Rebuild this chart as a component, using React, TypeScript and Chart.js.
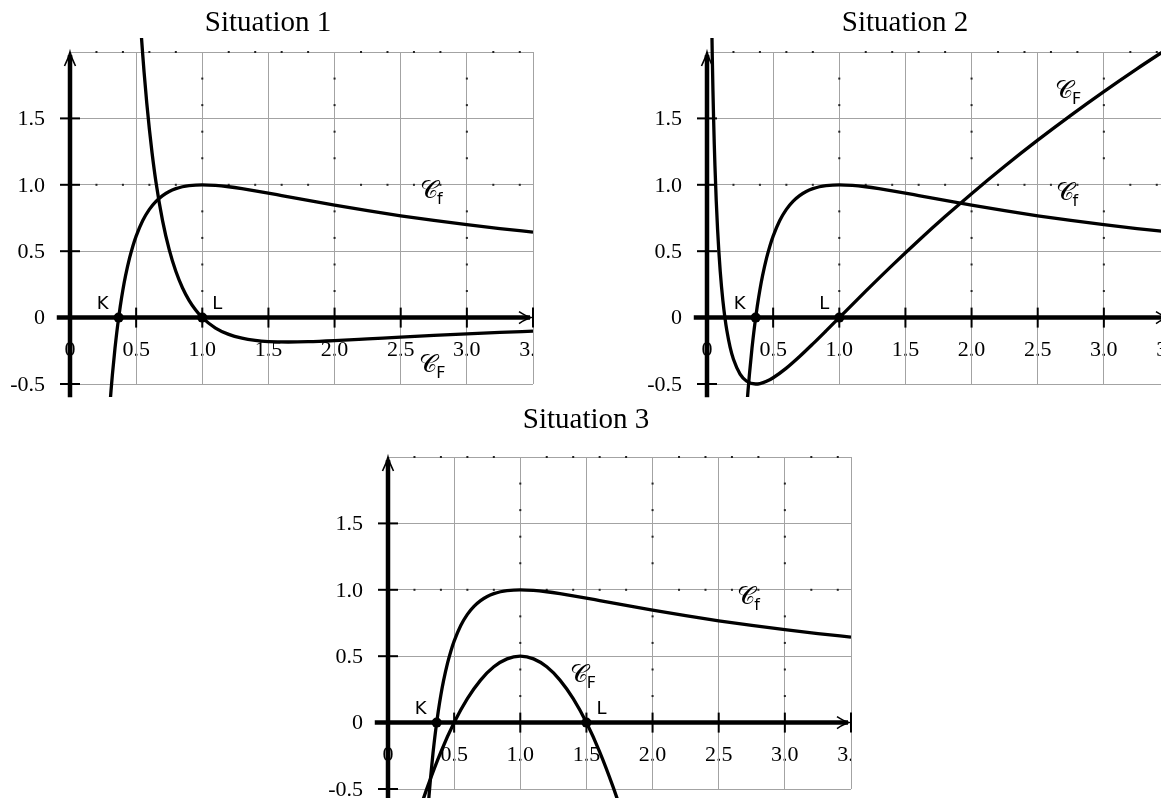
import React, { useEffect, useRef } from "react";
import { Chart, registerables } from "chart.js";
Chart.register(...registerables);

// Curve C_f (same in all three situations)
const fX = [0.29, 0.30, 0.31, 0.32, 0.34, 0.36, 0.3679, 0.38, 0.40, 0.42, 0.45, 0.475, 0.5, 0.55, 0.6, 0.65, 0.7, 0.75, 0.8, 0.85, 0.9, 1.0, 1.1, 1.2, 1.3, 1.4, 1.6, 1.8, 2.0, 2.25, 2.5, 2.75, 3.0, 3.25, 3.5];
const fY = [-0.8202, -0.6799, -0.5522, -0.4357, -0.2318, -0.0601, 0, 0.0853, 0.2093, 0.3155, 0.4478, 0.538, 0.6137, 0.7312, 0.8153, 0.8757, 0.919, 0.9498, 0.9711, 0.9853, 0.994, 1.0, 0.9957, 0.9853, 0.9711, 0.9546, 0.9188, 0.8821, 0.8466, 0.8049, 0.7665, 0.7315, 0.6995, 0.6704, 0.6436];

// Curve C_F, situation 1
const F1X = [0.53, 0.54, 0.55, 0.56, 0.58, 0.6, 0.62, 0.65, 0.7, 0.75, 0.8, 0.85, 0.9, 0.95, 1.0, 1.1, 1.2, 1.3, 1.4, 1.5, 1.65, 1.8, 2.0, 2.25, 2.5, 2.75, 3.0, 3.25, 3.5];
const F1Y = [2.2602, 2.1131, 1.9763, 1.8489, 1.6193, 1.419, 1.2436, 1.0196, 0.7279, 0.5114, 0.3487, 0.2249, 0.1301, 0.0568, 0, -0.0788, -0.1266, -0.1552, -0.1717, -0.1802, -0.1839, -0.1814, -0.1733, -0.1602, -0.1466, -0.1338, -0.1221, -0.1116, -0.1023];

// Curve C_F, situation 2
const F2X = [0.033, 0.035, 0.04, 0.045, 0.05, 0.055, 0.06, 0.07, 0.08, 0.09, 0.10, 0.11, 0.12, 0.135, 0.15, 0.175, 0.2, 0.25, 0.3, 0.3679, 0.4, 0.45, 0.5, 0.6, 0.7, 0.8, 0.9, 1.0, 1.2, 1.4, 1.6, 1.8, 2.0, 2.25, 2.5, 2.75, 3.0, 3.25, 3.5];
const F2Y = [2.4071, 2.2669, 1.9617, 1.7073, 1.4915, 1.3058, 1.1442, 0.8766, 0.6639, 0.4912, 0.3484, 0.2288, 0.1275, 0.0025, -0.0976, -0.224, -0.3143, -0.4254, -0.4792, -0.5, -0.4965, -0.4797, -0.4529, -0.3804, -0.2931, -0.1982, -0.0998, 0, 0.1989, 0.3931, 0.5805, 0.7605, 0.9334, 1.1397, 1.3361, 1.5233, 1.7021, 1.8733, 2.0375];

// Curve C_F, situation 3
const F3X = [0.2, 0.25, 0.3, 0.4, 0.5, 0.6, 0.7, 0.8, 0.9, 1.0, 1.1, 1.2, 1.3, 1.4, 1.5, 1.6, 1.7, 1.75, 1.8];
const F3Y = [-0.78, -0.625, -0.48, -0.22, 0, 0.18, 0.32, 0.42, 0.48, 0.5, 0.48, 0.42, 0.32, 0.18, 0, -0.22, -0.48, -0.625, -0.78];

// Points K and L
const pointNames = ["K", "L"];
const s1PointX = [0.3679, 1.0];
const s2PointX = [0.3679, 1.0];
const s3PointX = [0.3679, 1.5];

// Axis labels
const xTickValues = [0, 0.5, 1, 1.5, 2, 2.5, 3, 3.5];
const xTickLabels = ["0", "0.5", "1.0", "1.5", "2.0", "2.5", "3.0", "3.5"];
const yTickValues = [-0.5, 0, 0.5, 1, 1.5];
const yTickLabels = ["-0.5", "0", "0.5", "1.0", "1.5"];
const titles = ["Situation 1", "Situation 2", "Situation 3"];

type CurveLabel = { sub: string; x: number; y: number };
type PanelCfg = {
  title: string;
  left: number;
  top: number;
  titleBaseline: number;
  FX: number[];
  FY: number[];
  pts: number[];
  sides: string[];
  labels: CurveLabel[];
  clipBottom: number;
};

const PANELS: PanelCfg[] = [
  {
    title: titles[0], left: 0, top: 0, titleBaseline: 31,
    FX: F1X, FY: F1Y, pts: s1PointX, sides: ["left", "right"],
    labels: [{ sub: "f", x: 2.645, y: 0.95 }, { sub: "F", x: 2.64, y: -0.36 }],
    clipBottom: 13,
  },
  {
    title: titles[1], left: 637, top: 0, titleBaseline: 31,
    FX: F2X, FY: F2Y, pts: s2PointX, sides: ["left", "left"],
    labels: [{ sub: "f", x: 2.635, y: 0.935 }, { sub: "F", x: 2.63, y: 1.7 }],
    clipBottom: 13,
  },
  {
    title: titles[2], left: 318, top: 405, titleBaseline: 22.5,
    FX: F3X, FY: F3Y, pts: s3PointX, sides: ["left", "right"],
    labels: [{ sub: "f", x: 2.64, y: 0.94 }, { sub: "F", x: 1.374, y: 0.354 }],
    clipBottom: 40,
  },
];

const toXY = (xs: number[], ys: number[]) => xs.map((x, i) => ({ x, y: ys[i] }));

function makeDecor(p: PanelCfg) {
  return {
    id: "decor",
    beforeDraw(chart: any) {
      const { ctx, chartArea: a } = chart;
      const xs = chart.scales.x, ys = chart.scales.y;
      const x0 = xs.getPixelForValue(0), y0 = ys.getPixelForValue(0);
      ctx.save();
      ctx.fillStyle = "#000";
      ctx.font = '29px "Liberation Serif", serif';
      ctx.textAlign = "center";
      ctx.textBaseline = "alphabetic";
      ctx.fillText(p.title, (a.left + a.right) / 2 - 33.5, p.titleBaseline);
      ctx.font = '22px "Liberation Serif", serif';
      ctx.textAlign = "right";
      ctx.textBaseline = "middle";
      yTickValues.forEach((v, i) => ctx.fillText(yTickLabels[i], x0 - 25, ys.getPixelForValue(v) + 1));
      ctx.beginPath();
      ctx.rect(0, 0, a.right, chart.height);
      ctx.clip();
      ctx.textAlign = "center";
      ctx.textBaseline = "alphabetic";
      xTickValues.forEach((v, i) => ctx.fillText(xTickLabels[i], xs.getPixelForValue(v), y0 + 38));
      ctx.restore();
    },
    beforeDatasetsDraw(chart: any) {
      const { ctx } = chart;
      const xs = chart.scales.x, ys = chart.scales.y;
      const x0 = xs.getPixelForValue(0), y0 = ys.getPixelForValue(0);
      ctx.save();
      // minor dots along integer grid lines
      ctx.fillStyle = "#222";
      for (const gx of [1, 2, 3]) {
        for (let k = 1; k <= 9; k++) {
          if (k === 5) continue;
          ctx.fillRect(xs.getPixelForValue(gx) - 1, ys.getPixelForValue(k * 0.2) - 1, 2, 2);
        }
      }
      for (const gy of [1, 2]) {
        for (let k = 1; k <= 17; k++) {
          if (k % 5 === 0) continue;
          ctx.fillRect(xs.getPixelForValue(k * 0.2) - 1, ys.getPixelForValue(gy) - 1, 2, 2);
        }
      }
      // axes
      ctx.strokeStyle = "#000";
      ctx.lineWidth = 4.5;
      ctx.lineCap = "butt";
      const xr = xs.getPixelForValue(3.5);
      const yt = ys.getPixelForValue(2.0);
      ctx.beginPath();
      ctx.moveTo(xs.getPixelForValue(-0.1), y0);
      ctx.lineTo(xr - 3, y0);
      ctx.stroke();
      ctx.beginPath();
      ctx.moveTo(x0, ys.getPixelForValue(-0.6));
      ctx.lineTo(x0, yt + 3);
      ctx.stroke();
      // ticks
      ctx.lineWidth = 2;
      [-0.5, 0.5, 1, 1.5].forEach((v) => {
        const py = ys.getPixelForValue(v);
        ctx.beginPath();
        ctx.moveTo(x0 - 10, py);
        ctx.lineTo(x0 + 10, py);
        ctx.stroke();
      });
      [0.5, 1, 1.5, 2, 2.5, 3, 3.5].forEach((v) => {
        const px = xs.getPixelForValue(v);
        ctx.beginPath();
        ctx.moveTo(px, y0 - 10);
        ctx.lineTo(px, y0 + 10);
        ctx.stroke();
      });
      // arrow heads
      ctx.lineWidth = 1.6;
      const tx = xr - 2;
      ctx.beginPath();
      ctx.moveTo(tx - 12, y0 - 6);
      ctx.quadraticCurveTo(tx - 5, y0 - 1.5, tx, y0);
      ctx.quadraticCurveTo(tx - 5, y0 + 1.5, tx - 12, y0 + 6);
      ctx.stroke();
      ctx.beginPath();
      ctx.moveTo(x0 - 5.5, yt + 14);
      ctx.quadraticCurveTo(x0 - 1.5, yt + 6, x0, yt);
      ctx.quadraticCurveTo(x0 + 1.5, yt + 6, x0 + 5.5, yt + 14);
      ctx.stroke();
      ctx.restore();
    },
    afterDatasetsDraw(chart: any) {
      const { ctx } = chart;
      const xs = chart.scales.x, ys = chart.scales.y;
      const y0 = ys.getPixelForValue(0);
      ctx.save();
      ctx.fillStyle = "#000";
      ctx.font = '18px "DejaVu Sans", sans-serif';
      ctx.textBaseline = "alphabetic";
      p.pts.forEach((v, i) => {
        const px = xs.getPixelForValue(v);
        const left = p.sides[i] === "left";
        ctx.textAlign = left ? "right" : "left";
        ctx.fillText(pointNames[i], px + (left ? -10 : 10), y0 - 9);
      });
      p.labels.forEach((l) => {
        const px = xs.getPixelForValue(l.x), py = ys.getPixelForValue(l.y);
        ctx.font = '25px "DejaVu Serif", "DejaVu Sans", serif';
        ctx.textAlign = "left";
        ctx.textBaseline = "middle";
        ctx.fillText("\u{1D49E}", px, py);
        ctx.font = '16px "DejaVu Sans", sans-serif';
        ctx.textBaseline = "alphabetic";
        ctx.fillText(l.sub, px + 17, py + 12.5);
      });
      ctx.restore();
    },
  };
}

function Panel({ cfg }: { cfg: PanelCfg }) {
  const ref = useRef<HTMLCanvasElement>(null);
  useEffect(() => {
    const clip = { left: 20, top: 14, right: 0, bottom: cfg.clipBottom };
    const grid = { color: "#a3a3a3", lineWidth: 1, drawTicks: false };
    const chart = new Chart(ref.current as HTMLCanvasElement, {
      type: "line",
      data: {
        datasets: [
          {
            data: cfg.pts.map((x) => ({ x, y: 0 })),
            showLine: false,
            pointRadius: 5,
            pointBackgroundColor: "#000",
            pointBorderWidth: 0,
          },
          {
            data: toXY(fX, fY),
            borderColor: "#000",
            borderWidth: 3.3,
            pointRadius: 0,
            cubicInterpolationMode: "monotone",
            capBezierPoints: false,
            clip,
          },
          {
            data: toXY(cfg.FX, cfg.FY),
            borderColor: "#000",
            borderWidth: 3.3,
            pointRadius: 0,
            cubicInterpolationMode: "monotone",
            capBezierPoints: false,
            clip,
          },
        ] as any,
      },
      options: {
        responsive: false,
        animation: false,
        events: [],
        layout: { padding: { left: 70, top: 52, right: 27, bottom: 36 } },
        plugins: { legend: { display: false }, tooltip: { enabled: false }, title: { display: false } },
        scales: {
          x: { type: "linear", min: 0, max: 3.5, ticks: { display: false, stepSize: 0.5 }, grid, border: { display: false } },
          y: { type: "linear", min: -0.5, max: 2.0, ticks: { display: false, stepSize: 0.5 }, grid, border: { display: false } },
        },
      } as any,
      plugins: [makeDecor(cfg)],
    });
    return () => chart.destroy();
  }, []);
  return (
    <canvas
      ref={ref}
      width={560}
      height={420}
      style={{ position: "absolute", left: cfg.left, top: cfg.top, width: 560, height: 420 }}
    />
  );
}

export default function App() {
  return (
    <div style={{ position: "fixed", left: 0, top: 0, width: 1161, height: 798, overflow: "hidden", background: "#fff" }}>
      {PANELS.map((p, i) => (
        <Panel key={i} cfg={p} />
      ))}
    </div>
  );
}
